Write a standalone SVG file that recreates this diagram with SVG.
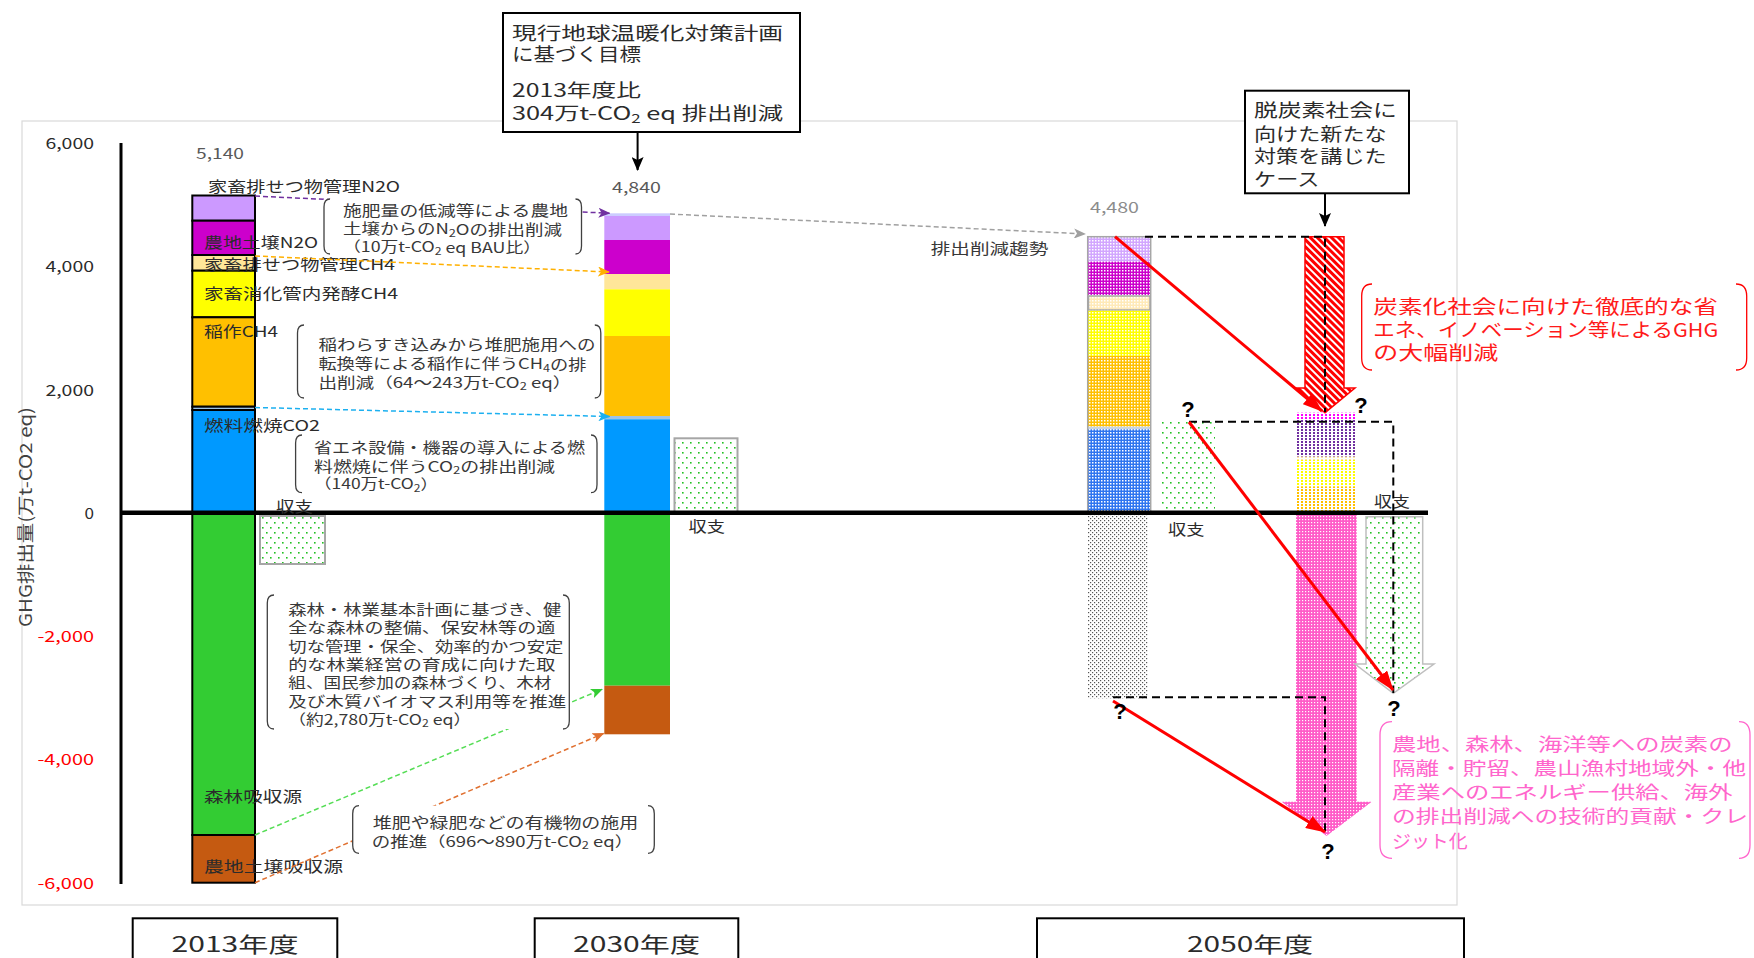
<svg xmlns="http://www.w3.org/2000/svg" width="1754" height="958" viewBox="0 0 1754 958">
<style>
.t{font-family:"Noto Sans CJK JP","Noto Sans",sans-serif;dominant-baseline:central;fill:#2b2b2b}
.s15{font-size:15px}
.s14{font-size:14.5px;fill:#383838}
.s18{font-size:18px}
.s21{font-size:21px}
.q{font-family:"Liberation Sans",Arial,sans-serif;font-weight:bold;font-size:22px;text-anchor:middle;dominant-baseline:central;fill:#000}
.wb{fill:#fff;stroke:none}
.brk{fill:none;stroke:#404040;stroke-width:1.3}
.dl{fill:none;stroke-width:1.5;stroke-dasharray:5 3}
.bd{fill:none;stroke:#000;stroke-width:2;stroke-dasharray:8 5}
.ra{fill:none;stroke:#FF0000;stroke-width:3;marker-end:url(#mRed)}
.seg{stroke:#000;stroke-width:2}
.box{fill:#fff;stroke:#000;stroke-width:2}
</style>
<defs>
<pattern id="pLav" width="3" height="3" patternUnits="userSpaceOnUse"><rect width="3" height="3" fill="#D2A6FF"/><rect width="1.5" height="1.5" fill="#fff"/></pattern>
<pattern id="pMag" width="3" height="3" patternUnits="userSpaceOnUse"><rect width="3" height="3" fill="#CC00CC"/><rect width="1.5" height="1.5" fill="#fff"/></pattern>
<pattern id="pBei" width="3" height="3" patternUnits="userSpaceOnUse"><rect width="3" height="3" fill="#FFEAB8"/><rect width="1.5" height="1.5" fill="#fff"/></pattern>
<pattern id="pYel" width="3" height="3" patternUnits="userSpaceOnUse"><rect width="3" height="3" fill="#FFFF00"/><rect width="1.5" height="1.5" fill="#fff"/></pattern>
<pattern id="pOra" width="3" height="3" patternUnits="userSpaceOnUse"><rect width="3" height="3" fill="#FFC000"/><rect width="1.5" height="1.5" fill="#fff"/></pattern>
<pattern id="pBlu" width="3" height="3" patternUnits="userSpaceOnUse"><rect width="3" height="3" fill="#2E75F0"/><rect width="1.5" height="1.5" fill="#fff"/></pattern>
<pattern id="pGray" width="4" height="4" patternUnits="userSpaceOnUse"><rect width="4" height="4" fill="#fff"/><rect width="1.2" height="1.2" fill="#555"/><rect x="2" y="2" width="1.2" height="1.2" fill="#555"/></pattern>
<pattern id="pGrn" width="8" height="10" patternUnits="userSpaceOnUse"><rect width="8" height="10" fill="#fff"/><rect x="2" y="2" width="1.6" height="1.6" fill="#22C022"/><rect x="6" y="7" width="1.6" height="1.6" fill="#22C022"/></pattern>
<pattern id="pPink" width="3" height="3" patternUnits="userSpaceOnUse"><rect width="3" height="3" fill="#FF5CC8"/><rect width="1.2" height="1.2" fill="#fff"/></pattern>
<pattern id="pHatch" width="5" height="5" patternUnits="userSpaceOnUse" patternTransform="rotate(-45)"><rect width="5" height="5" fill="#FF0000"/><rect width="2" height="5" fill="#fff"/></pattern>
<pattern id="nMag" width="4" height="3" patternUnits="userSpaceOnUse"><rect width="4" height="3" fill="#fff"/><rect x="1" width="2" height="2" fill="#FF00FF"/></pattern>
<pattern id="nPur" width="4" height="3" patternUnits="userSpaceOnUse"><rect width="4" height="3" fill="#fff"/><rect x="1" width="2" height="2" fill="#7030A0"/></pattern>
<pattern id="nYel" width="4" height="3" patternUnits="userSpaceOnUse"><rect width="4" height="3" fill="#fff"/><rect x="1" width="2" height="2" fill="#FFFF00"/></pattern>
<pattern id="nOra" width="4" height="3" patternUnits="userSpaceOnUse"><rect width="4" height="3" fill="#fff"/><rect x="1" width="2" height="2" fill="#FFC000"/></pattern>
<pattern id="nBei" width="4" height="3" patternUnits="userSpaceOnUse"><rect width="4" height="3" fill="#fff"/><rect x="1" width="2" height="2" fill="#FFE699"/></pattern>
<marker id="mPur" viewBox="0 0 12 10" refX="11" refY="5" markerWidth="12" markerHeight="10" orient="auto" markerUnits="userSpaceOnUse"><path d="M0,0 L12,5 L0,10 L3,5z" fill="#7030A0"/></marker>
<marker id="mOra" viewBox="0 0 12 10" refX="11" refY="5" markerWidth="12" markerHeight="10" orient="auto" markerUnits="userSpaceOnUse"><path d="M0,0 L12,5 L0,10 L3,5z" fill="#FFB000"/></marker>
<marker id="mBlu" viewBox="0 0 12 10" refX="11" refY="5" markerWidth="12" markerHeight="10" orient="auto" markerUnits="userSpaceOnUse"><path d="M0,0 L12,5 L0,10 L3,5z" fill="#1CB0F0"/></marker>
<marker id="mGrn" viewBox="0 0 12 10" refX="11" refY="5" markerWidth="12" markerHeight="10" orient="auto" markerUnits="userSpaceOnUse"><path d="M0,0 L12,5 L0,10 L3,5z" fill="#33CC33"/></marker>
<marker id="mBrn" viewBox="0 0 12 10" refX="11" refY="5" markerWidth="12" markerHeight="10" orient="auto" markerUnits="userSpaceOnUse"><path d="M0,0 L12,5 L0,10 L3,5z" fill="#E07030"/></marker>
<marker id="mGry" viewBox="0 0 12 10" refX="11" refY="5" markerWidth="12" markerHeight="10" orient="auto" markerUnits="userSpaceOnUse"><path d="M0,0 L12,5 L0,10 L3,5z" fill="#A0A0A0"/></marker>
<marker id="mBlk" viewBox="0 0 14 12" refX="13" refY="6" markerWidth="14" markerHeight="12" orient="auto" markerUnits="userSpaceOnUse"><path d="M0,0 L14,6 L0,12 L3,6z" fill="#000"/></marker>
<marker id="mRed" viewBox="0 0 20 14" refX="19" refY="7" markerWidth="20" markerHeight="14" orient="auto" markerUnits="userSpaceOnUse"><path d="M0,0 L20,7 L0,14z" fill="#FF0000"/></marker>
</defs>

<rect width="1754" height="958" fill="#fff"/>

<g id="plot-frame">
<rect x="22" y="121" width="1435" height="784" fill="none" stroke="#D9D9D9" stroke-width="1.2"/>
</g>

<g id="axis">
<text class="t s15" x="94" y="142.7" text-anchor="end" textLength="48.6" lengthAdjust="spacingAndGlyphs">6,000</text>
<text class="t s15" x="94" y="265.7" text-anchor="end" textLength="48.6" lengthAdjust="spacingAndGlyphs">4,000</text>
<text class="t s15" x="94" y="389" text-anchor="end" textLength="48.6" lengthAdjust="spacingAndGlyphs">2,000</text>
<text class="t s15" x="94" y="512.7" text-anchor="end" textLength="9.5" lengthAdjust="spacingAndGlyphs">0</text>
<text class="t s15" x="94" y="635.3" text-anchor="end" textLength="56.6" lengthAdjust="spacingAndGlyphs" style="fill:#FF0000">-2,000</text>
<text class="t s15" x="94" y="758.7" text-anchor="end" textLength="56.6" lengthAdjust="spacingAndGlyphs" style="fill:#FF0000">-4,000</text>
<text class="t s15" x="94" y="882" text-anchor="end" textLength="56.6" lengthAdjust="spacingAndGlyphs" style="fill:#FF0000">-6,000</text>
<text class="t" x="0" y="0" transform="translate(24.5 517) rotate(-90)" text-anchor="middle" textLength="220" lengthAdjust="spacingAndGlyphs" style="font-size:17px;fill:#404040">GHG排出量(万t-CO2 eq)</text>
</g>

<g id="bar-2013">
<rect class="seg" x="192.3" y="195.5" width="62.7" height="25.2" fill="#CC99FF"/>
<rect class="seg" x="192.3" y="220.7" width="62.7" height="34.3" fill="#CC00CC"/>
<rect class="seg" x="192.3" y="255" width="62.7" height="15.7" fill="#FFE699"/>
<rect class="seg" x="192.3" y="270.7" width="62.7" height="46.6" fill="#FFFF00"/>
<rect class="seg" x="192.3" y="317.3" width="62.7" height="89.4" fill="#FFC000"/>
<rect class="seg" x="192.3" y="406.7" width="62.7" height="3.3" fill="#9DC3E6"/>
<rect class="seg" x="192.3" y="410" width="62.7" height="102.7" fill="#0099FF"/>
<rect class="seg" x="192.3" y="512.7" width="62.7" height="322.3" fill="#33CC33"/>
<rect class="seg" x="192.3" y="835" width="62.7" height="47.7" fill="#C55A11"/>
<text class="t s15" x="196" y="152" textLength="48" lengthAdjust="spacingAndGlyphs" style="fill:#595959">5,140</text>
</g>

<g id="balance-2013">
<rect x="260" y="516" width="65" height="48" fill="url(#pGrn)" stroke="#A6A6A6" stroke-width="2"/>
</g>

<g id="bar-2030">
<rect x="604.3" y="213.3" width="65.7" height="2.7" fill="#CCCCFF"/>
<rect x="604.3" y="216" width="65.7" height="24" fill="#CC99FF"/>
<rect x="604.3" y="240" width="65.7" height="34" fill="#CC00CC"/>
<rect x="604.3" y="274" width="65.7" height="15.3" fill="#FFE699"/>
<rect x="604.3" y="289.3" width="65.7" height="46.7" fill="#FFFF00"/>
<rect x="604.3" y="336" width="65.7" height="80" fill="#FFC000"/>
<rect x="604.3" y="416" width="65.7" height="3.3" fill="#9DC3E6"/>
<rect x="604.3" y="419.3" width="65.7" height="93.4" fill="#0099FF"/>
<rect x="604.3" y="512.7" width="65.7" height="173" fill="#33CC33"/>
<rect x="604.3" y="685.7" width="65.7" height="48.6" fill="#C55A11"/>
<text class="t s15" x="612" y="186.7" textLength="49" lengthAdjust="spacingAndGlyphs" style="fill:#595959">4,840</text>
</g>

<g id="balance-2030">
<rect x="674.5" y="438.3" width="63" height="74.4" fill="url(#pGrn)" stroke="#A6A6A6" stroke-width="2"/>
</g>

<g id="bar-2050-trend">
<rect x="1087.7" y="236.7" width="63" height="25" fill="url(#pLav)"/>
<rect x="1087.7" y="261.7" width="63" height="33.3" fill="url(#pMag)"/>
<rect x="1088.5" y="296" width="61.5" height="14" fill="url(#pBei)" stroke="#A6A6A6" stroke-width="1.5"/>
<rect x="1087.7" y="310.7" width="63" height="45.3" fill="url(#pYel)"/>
<rect x="1087.7" y="356" width="63" height="70.7" fill="url(#pOra)"/>
<rect x="1087.7" y="426.7" width="63" height="2.6" fill="#C8D4E0"/>
<rect x="1087.7" y="429.3" width="63" height="83.4" fill="url(#pBlu)"/>
<rect x="1087.7" y="236.7" width="63" height="276" fill="none" stroke="#A6A6A6" stroke-width="1.5"/>
<rect x="1088" y="512.7" width="60" height="185.6" fill="url(#pGray)"/>
<text class="t s15" x="1090" y="206" textLength="49" lengthAdjust="spacingAndGlyphs" style="fill:#8C8C8C">4,480</text>
<text class="t s15" x="930.7" y="247.7" textLength="117.6" lengthAdjust="spacingAndGlyphs" style="fill:#383838">排出削減趨勢</text>
</g>

<g id="balance-2050-trend">
<rect x="1161.7" y="421.7" width="53.3" height="91" fill="url(#pGrn)"/>
</g>

<g id="bar-2050-new">
<rect x="1295" y="412.7" width="61.7" height="7.3" fill="url(#nMag)"/>
<rect x="1295" y="420" width="61.7" height="36.7" fill="url(#nPur)"/>
<rect x="1295" y="456.7" width="61.7" height="3.3" fill="url(#nBei)"/>
<rect x="1295" y="460" width="61.7" height="26.7" fill="url(#nYel)"/>
<rect x="1295" y="486.7" width="61.7" height="26" fill="url(#nOra)"/>
</g>

<g id="arrow-red-reduction">
<polygon points="1305,236.7 1344,236.7 1344,388 1355,388 1325,412.7 1296,388 1305,388" fill="url(#pHatch)" stroke="#FF0000" stroke-width="1.5"/>
</g>

<g id="arrow-pink-sink">
<polygon points="1296,512.7 1356.7,512.7 1356.7,801.7 1371.7,801.7 1326.5,836 1281.7,801.7 1296,801.7" fill="url(#pPink)"/>
</g>

<g id="arrow-green-balance">
<polygon points="1366,516.7 1422.7,516.7 1422.7,664 1434,664 1393.3,693.3 1355,664 1366,664" fill="url(#pGrn)" stroke="#BFBFBF" stroke-width="1.5"/>
</g>

<g id="zero-axis">
<line x1="121" y1="143" x2="121" y2="884" stroke="#000" stroke-width="3"/>
<line x1="121" y1="512.7" x2="1428" y2="512.7" stroke="#000" stroke-width="4.5"/>
</g>

<g id="labels-2013">
<text class="t s15" x="208" y="185" textLength="192" lengthAdjust="spacingAndGlyphs">家畜排せつ物管理N2O</text>
<text class="t s15" x="204" y="241" textLength="114" lengthAdjust="spacingAndGlyphs">農地土壌N2O</text>
<text class="t s15" x="204" y="263" textLength="191" lengthAdjust="spacingAndGlyphs">家畜排せつ物管理CH4</text>
<text class="t s15" x="204" y="292" textLength="194" lengthAdjust="spacingAndGlyphs">家畜消化管内発酵CH4</text>
<text class="t s15" x="204" y="330" textLength="74" lengthAdjust="spacingAndGlyphs">稲作CH4</text>
<text class="t s15" x="204" y="424" textLength="116" lengthAdjust="spacingAndGlyphs">燃料燃焼CO2</text>
<text class="t s15" x="276" y="505" textLength="37" lengthAdjust="spacingAndGlyphs">収支</text>
<text class="t s15" x="204" y="795" textLength="98" lengthAdjust="spacingAndGlyphs">森林吸収源</text>
<text class="t s15" x="204" y="865" textLength="139" lengthAdjust="spacingAndGlyphs">農地土壌吸収源</text>
<text class="t s15" x="688.5" y="525" textLength="36.5" lengthAdjust="spacingAndGlyphs">収支</text>
<text class="t s15" x="1168" y="528" textLength="36.5" lengthAdjust="spacingAndGlyphs">収支</text>
<text class="t s15" x="1374" y="500" textLength="36" lengthAdjust="spacingAndGlyphs">収支</text>
</g>

<g id="connectors">
<line class="dl" x1="255" y1="196" x2="609.5" y2="213.3" stroke="#7030A0" marker-end="url(#mPur)"/>
<line class="dl" x1="255" y1="256" x2="609" y2="272" stroke="#FFB000" marker-end="url(#mOra)"/>
<line class="dl" x1="255" y1="407.5" x2="609.5" y2="416.5" stroke="#1CB0F0" marker-end="url(#mBlu)"/>
<line class="dl" x1="255" y1="835" x2="602" y2="689.3" stroke="#55DD55" marker-end="url(#mGrn)"/>
<line class="dl" x1="255" y1="882.7" x2="603.5" y2="733.5" stroke="#E07030" marker-end="url(#mBrn)"/>
<line class="dl" x1="670" y1="214" x2="1085" y2="234" stroke="#A0A0A0" marker-end="url(#mGry)"/>
<line x1="637.6" y1="132" x2="637.6" y2="170" stroke="#000" stroke-width="2" marker-end="url(#mBlk)"/>
<line x1="1325" y1="193.3" x2="1325" y2="226" stroke="#000" stroke-width="2" marker-end="url(#mBlk)"/>
<path class="bd" d="M1145,236.7 H1325 V412"/>
<path class="bd" d="M1189,421.7 H1393.3 V693"/>
<path class="bd" d="M1113,697.3 H1325 V835"/>
<line class="ra" x1="1115" y1="236.7" x2="1322" y2="411"/>
<line class="ra" x1="1189" y1="422" x2="1393" y2="690"/>
<line class="ra" x1="1113" y1="701" x2="1325" y2="832"/>
</g>

<g id="note-n2o">
<rect class="wb" x="323.7" y="199" width="257.8" height="55"/>
<path class="brk" d="M330,199 Q324,199 324,207 V246 Q324,254 330,254 M575.5,199 Q581.5,199 581.5,207 V246 Q581.5,254 575.5,254"/>
<text class="t s14" x="343" y="209.3" textLength="225" lengthAdjust="spacingAndGlyphs">施肥量の低減等による農地</text>
<text class="t s14" x="343" y="227.7" textLength="219" lengthAdjust="spacingAndGlyphs">土壌からのN<tspan font-size="10" dy="4">2</tspan><tspan dy="-4">Oの排出削減</tspan></text>
<text class="t s14" x="343" y="245.7" textLength="198" lengthAdjust="spacingAndGlyphs">（10万t-CO<tspan font-size="10" dy="4">2</tspan><tspan dy="-4"> eq BAU比）</tspan></text>
</g>

<g id="note-rice">
<rect class="wb" x="297.4" y="325" width="303.4" height="73"/>
<path class="brk" d="M304,325 Q297.5,325 297.5,333 V390 Q297.5,398 304,398 M594.8,325 Q600.8,325 600.8,333 V390 Q600.8,398 594.8,398"/>
<text class="t s14" x="318.4" y="343.3" textLength="277" lengthAdjust="spacingAndGlyphs">稲わらすき込みから堆肥施用への</text>
<text class="t s14" x="318.4" y="362.7" textLength="268" lengthAdjust="spacingAndGlyphs">転換等による稲作に伴うCH<tspan font-size="10" dy="4">4</tspan><tspan dy="-4">の排</tspan></text>
<text class="t s14" x="318.4" y="381" textLength="253" lengthAdjust="spacingAndGlyphs">出削減（64～243万t-CO<tspan font-size="10" dy="4">2</tspan><tspan dy="-4"> eq）</tspan></text>
</g>

<g id="note-fuel">
<rect class="wb" x="295.6" y="435" width="301.4" height="57.7"/>
<path class="brk" d="M302,435 Q295.6,435 295.6,443 V484.7 Q295.6,492.7 302,492.7 M591,435 Q597,435 597,443 V484.7 Q597,492.7 591,492.7"/>
<text class="t s14" x="314" y="446.7" textLength="271" lengthAdjust="spacingAndGlyphs">省エネ設備・機器の導入による燃</text>
<text class="t s14" x="314" y="465" textLength="241" lengthAdjust="spacingAndGlyphs">料燃焼に伴うCO<tspan font-size="10" dy="4">2</tspan><tspan dy="-4">の排出削減</tspan></text>
<text class="t s14" x="314" y="482.7" textLength="124" lengthAdjust="spacingAndGlyphs">（140万t-CO<tspan font-size="10" dy="4">2</tspan><tspan dy="-4">）</tspan></text>
</g>

<g id="note-forest">
<rect class="wb" x="267.3" y="595" width="302" height="134"/>
<path class="brk" d="M274,595 Q267.3,595 267.3,603 V721 Q267.3,729 274,729 M563,595 Q569.3,595 569.3,603 V721 Q569.3,729 563,729"/>
<text class="t s14" x="288.3" y="608.3" textLength="273" lengthAdjust="spacingAndGlyphs">森林・林業基本計画に基づき、健</text>
<text class="t s14" x="288.3" y="626.5" textLength="267" lengthAdjust="spacingAndGlyphs">全な森林の整備、保安林等の適</text>
<text class="t s14" x="288.3" y="645" textLength="275" lengthAdjust="spacingAndGlyphs">切な管理・保全、効率的かつ安定</text>
<text class="t s14" x="288.3" y="663.3" textLength="267" lengthAdjust="spacingAndGlyphs">的な林業経営の育成に向けた取</text>
<text class="t s14" x="288.3" y="681.7" textLength="263" lengthAdjust="spacingAndGlyphs">組、国民参加の森林づくり、木材</text>
<text class="t s14" x="288.3" y="700" textLength="278" lengthAdjust="spacingAndGlyphs">及び木質バイオマス利用等を推進</text>
<text class="t s14" x="288.3" y="718.3" textLength="183" lengthAdjust="spacingAndGlyphs">（約2,780万t-CO<tspan font-size="10" dy="4">2</tspan><tspan dy="-4"> eq）</tspan></text>
</g>

<g id="note-compost">
<rect class="wb" x="352.7" y="805.7" width="301.6" height="47.6"/>
<path class="brk" d="M359,805.7 Q352.7,805.7 352.7,813.7 V845.3 Q352.7,853.3 359,853.3 M648,805.7 Q654.3,805.7 654.3,813.7 V845.3 Q654.3,853.3 648,853.3"/>
<text class="t s14" x="372.7" y="821.7" textLength="265.6" lengthAdjust="spacingAndGlyphs">堆肥や緑肥などの有機物の施用</text>
<text class="t s14" x="371.7" y="840" textLength="261.6" lengthAdjust="spacingAndGlyphs">の推進（696～890万t-CO<tspan font-size="10" dy="4">2</tspan><tspan dy="-4"> eq）</tspan></text>
</g>

<g id="box-target">
<rect class="box" x="503" y="13" width="297" height="119"/>
<text class="t s18" x="512" y="31.7" textLength="271" lengthAdjust="spacingAndGlyphs">現行地球温暖化対策計画</text>
<text class="t s18" x="512" y="53.3" textLength="129" lengthAdjust="spacingAndGlyphs">に基づく目標</text>
<text class="t s18" x="512" y="89.3" textLength="129" lengthAdjust="spacingAndGlyphs">2013年度比</text>
<text class="t s18" x="512" y="111.7" textLength="271" lengthAdjust="spacingAndGlyphs">304万t-CO<tspan font-size="12" dy="5">2</tspan><tspan dy="-5"> eq 排出削減</tspan></text>
</g>

<g id="box-decarb">
<rect class="box" x="1245" y="90.7" width="164" height="102.6"/>
<text class="t s18" x="1254" y="109.3" textLength="142.7" lengthAdjust="spacingAndGlyphs">脱炭素社会に</text>
<text class="t s18" x="1254" y="132.7" textLength="132.7" lengthAdjust="spacingAndGlyphs">向けた新たな</text>
<text class="t s18" x="1254" y="155" textLength="132.7" lengthAdjust="spacingAndGlyphs">対策を講じた</text>
<text class="t s18" x="1254" y="178.3" textLength="65.3" lengthAdjust="spacingAndGlyphs">ケース</text>
</g>

<g id="note-red">
<path d="M1372,284 Q1361.7,284 1361.7,296 V358 Q1361.7,370 1372,370 M1736,284 Q1746.7,284 1746.7,296 V358 Q1746.7,370 1736,370" fill="none" stroke="#FF0000" stroke-width="1.3"/>
<text class="t" x="1373.3" y="305.7" textLength="344.7" lengthAdjust="spacingAndGlyphs" style="font-size:19px;fill:#FF1A1A">炭素化社会に向けた徹底的な省</text>
<text class="t" x="1373.3" y="328.3" textLength="345" lengthAdjust="spacingAndGlyphs" style="font-size:19px;fill:#FF1A1A">エネ、イノベーション等によるGHG</text>
<text class="t" x="1373.3" y="351.7" textLength="125" lengthAdjust="spacingAndGlyphs" style="font-size:19px;fill:#FF1A1A">の大幅削減</text>
</g>

<g id="note-pink">
<path d="M1392,721.7 Q1380,721.7 1380,735 V845 Q1380,858.3 1392,858.3 M1739,721.7 Q1750,721.7 1750,735 V845 Q1750,858.3 1739,858.3" fill="none" stroke="#FF66CC" stroke-width="1.3"/>
<text class="t" x="1392" y="742.7" textLength="340.5" lengthAdjust="spacingAndGlyphs" style="font-size:18px;fill:#FF66CC">農地、森林、海洋等への炭素の</text>
<text class="t" x="1392" y="766.7" textLength="354" lengthAdjust="spacingAndGlyphs" style="font-size:18px;fill:#FF66CC">隔離・貯留、農山漁村地域外・他</text>
<text class="t" x="1392" y="791" textLength="340.5" lengthAdjust="spacingAndGlyphs" style="font-size:18px;fill:#FF66CC">産業へのエネルギー供給、海外</text>
<text class="t" x="1392" y="815" textLength="356" lengthAdjust="spacingAndGlyphs" style="font-size:18px;fill:#FF66CC">の排出削減への技術的貢献・クレ</text>
<text class="t" x="1392" y="840" textLength="75.6" lengthAdjust="spacingAndGlyphs" style="font-size:18px;fill:#FF66CC">ジット化</text>
</g>

<g id="question-marks">
<text class="q" x="1188" y="409">?</text>
<text class="q" x="1361" y="405">?</text>
<text class="q" x="1120" y="711">?</text>
<text class="q" x="1394" y="708">?</text>
<text class="q" x="1328" y="851">?</text>
</g>

<g id="year-2013">
<rect class="box" x="132.7" y="918.3" width="204.6" height="60"/>
<text class="t s21" x="235" y="942.7" text-anchor="middle" textLength="127" lengthAdjust="spacingAndGlyphs">2013年度</text>
</g>
<g id="year-2030">
<rect class="box" x="534.7" y="918.3" width="203.6" height="60"/>
<text class="t s21" x="636.5" y="942.7" text-anchor="middle" textLength="127" lengthAdjust="spacingAndGlyphs">2030年度</text>
</g>
<g id="year-2050">
<rect class="box" x="1037" y="918.3" width="427" height="60"/>
<text class="t s21" x="1250" y="942.7" text-anchor="middle" textLength="126" lengthAdjust="spacingAndGlyphs">2050年度</text>
</g>
</svg>
